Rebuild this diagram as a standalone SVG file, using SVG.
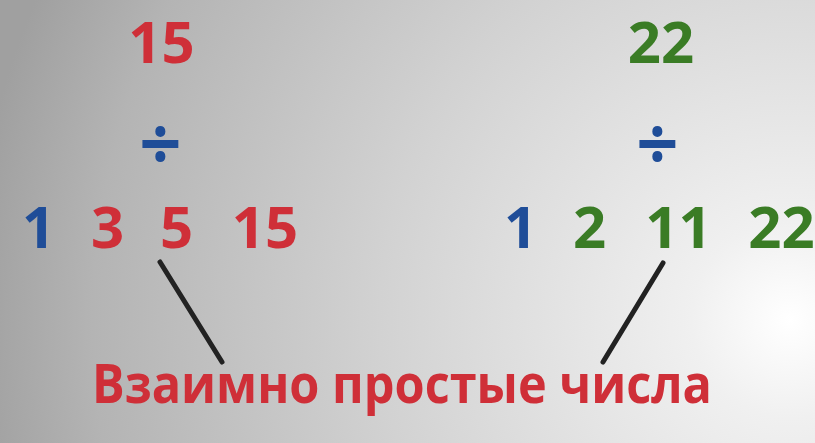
<svg xmlns="http://www.w3.org/2000/svg" width="815" height="443" viewBox="0 0 815 443">
<defs>
<radialGradient id="bg" gradientUnits="userSpaceOnUse" cx="790" cy="320" r="820">
<stop offset="0" stop-color="#ffffff"/>
<stop offset="0.12" stop-color="#f0f0f0"/>
<stop offset="0.5" stop-color="#d2d2d2"/>
<stop offset="0.85" stop-color="#b4b4b4"/>
<stop offset="1" stop-color="#a0a0a0"/>
</radialGradient>
<style>
text{font-family:"Open Sans","Liberation Sans",sans-serif;font-weight:bold;text-anchor:middle}
.n{font-size:58px}
.r{fill:#cf2f38}
.b{fill:#1f4d98}
.g{fill:#3a7c25}
.d{font-size:74px}
.l{stroke:#222;stroke-width:5;stroke-linecap:round;fill:none}
</style>
</defs>
<rect width="815" height="443" fill="url(#bg)"/>
<g id="n15"><text class="n r" x="161.5" y="63">15</text></g>
<g id="n22"><text class="n g" x="661" y="63">22</text></g>
<g id="div1"><text class="d b" x="160.5" y="170">÷</text></g>
<g id="div2"><text class="d b" x="657.5" y="170">÷</text></g>
<g id="f15">
<text class="n b" x="38.5" y="248">1</text>
<text class="n r" x="107.5" y="248">3</text>
<text class="n r" x="176.5" y="248">5</text>
<text class="n r" x="265" y="248">15</text>
</g>
<g id="f22">
<text class="n b" x="520.5" y="248">1</text>
<text class="n g" x="589.5" y="248">2</text>
<text class="n g" x="678.5" y="248">11</text>
<text class="n g" x="781.5" y="248">22</text>
</g>
<g id="connectors">
<line class="l" x1="160" y1="262" x2="222" y2="362"/>
<line class="l" x1="663" y1="263" x2="603" y2="362"/>
</g>
<g id="label"><text class="r" x="402" y="403" font-size="53" textLength="620" lengthAdjust="spacingAndGlyphs">Взаимно простые числа</text></g>
</svg>
